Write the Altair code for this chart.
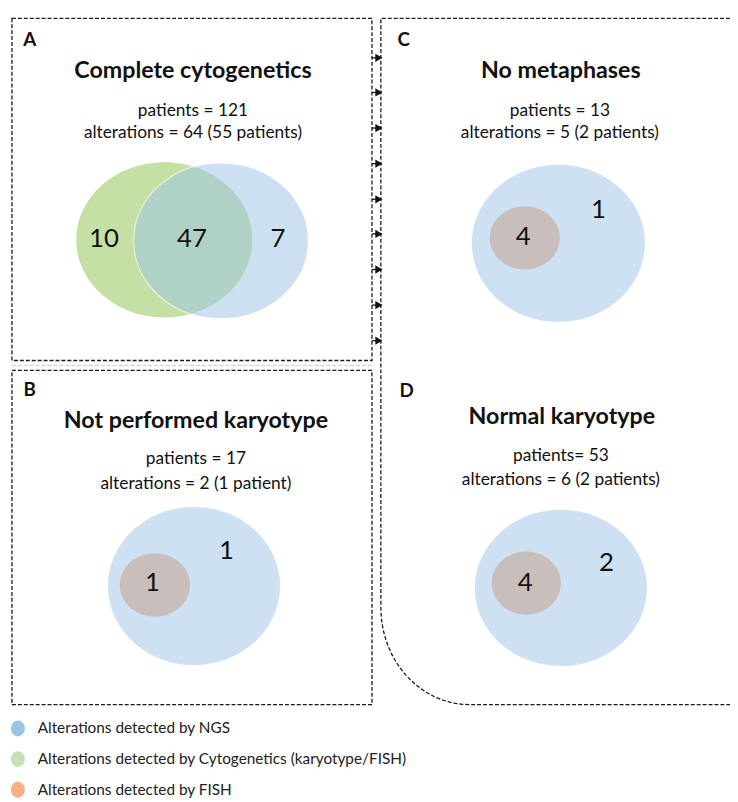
import altair as alt
import pandas as pd
import numpy as np

# ---------------- content ----------------
panel_letters = ["A", "B", "C", "D"]
panel_titles = ["Complete cytogenetics", "Not performed karyotype", "No metaphases", "Normal karyotype"]
patient_lines = ["patients = 121", "patients = 17", "patients = 13", "patients= 53"]
alteration_lines = ["alterations = 64 (55 patients)", "alterations = 2 (1 patient)",
                    "alterations = 5 (2 patients)", "alterations = 6 (2 patients)"]

venn_counts = ["10", "47", "7", "1", "1", "4", "1", "4", "2"]

legend_labels = ["Alterations detected by NGS",
                 "Alterations detected by Cytogenetics (karyotype/FISH)",
                 "Alterations detected by FISH"]
legend_colors = ["#9dc3e6", "#c5e0b4", "#f4b183"]

# ---------------- layout (page pixel coordinates) ----------------
letter_x = [30, 30, 408, 411]
letter_y = [36, 390, 36, 391]
title_x = [195, 198, 567, 568]
title_y = [67, 421, 67, 417]
sub_x = [195, 198, 566, 567]
sub1_y = [108, 460, 108, 457]
sub2_y = [130, 485, 130, 481]

count_x = [105, 194, 281, 154, 229, 529, 605, 531, 613]
count_y = [237, 237, 237, 585, 553, 235, 208, 585, 565]

# ellipses: cx, cy, rx, ry, fill, opacity, stroke, strokeWidth
ell_cx = [166, 223.5, 196, 156.5, 564.5, 530.5, 567, 532]
ell_cy = [238, 239, 588, 587, 241.5, 236, 590, 585]
ell_rx = [89, 88.5, 87, 35.5, 87.5, 35.5, 87, 35]
ell_ry = [78.5, 79, 80, 32, 79.5, 32, 79, 32]
ell_fill = ["#c5e0a5", "#9dc3e6", "#9dc3e6", "#c8bebb", "#9dc3e6", "#c8bebb", "#9dc3e6", "#c8bebb"]
ell_op = [1, 0.5, 0.5, 1, 0.5, 1, 0.5, 1]
ell_stroke = ["#c5e0a5", "#ffffff", "#9dc3e6", "#c8bebb", "#9dc3e6", "#c8bebb", "#9dc3e6", "#c8bebb"]
ell_sw = [0, 1.5, 0, 0, 0, 0, 0, 0]

legend_x = 18
legend_text_x = 38
legend_y = [732, 763, 794]

W, H = 730, 794
XD = [8, 738]
YD = [802, 8]
FONT = "Lato"


def ell_path(rx, ry):
    k = ry / rx
    return f"M-1,0A1,{k:.4f},0,0,1,1,0A1,{k:.4f},0,0,1,-1,0Z"


xs = alt.Scale(domain=XD, range=[0, W], nice=False, zero=False)
ys = alt.Scale(domain=YD, range=[H, 0], nice=False, zero=False)


def X(f="x"):
    return alt.X(f"{f}:Q", scale=xs, axis=None)


def Y(f="y"):
    return alt.Y(f"{f}:Q", scale=ys, axis=None)


# ---------------- data frames ----------------
ell_df = pd.DataFrame({
    "x": ell_cx, "y": ell_cy,
    "shape": [ell_path(a, b) for a, b in zip(ell_rx, ell_ry)],
    "size": [(2 * a) ** 2 for a in ell_rx],
    "fill": ell_fill, "op": ell_op, "stroke": ell_stroke, "sw": ell_sw,
    "order": list(range(len(ell_cx))),
})

leg_df = pd.DataFrame({
    "x": [legend_x] * 3, "y": legend_y,
    "shape": [ell_path(7, 8)] * 3, "size": [14 ** 2] * 3,
    "fill": legend_colors, "label": legend_labels, "tx": [legend_text_x] * 3,
})

letters_df = pd.DataFrame({"x": letter_x, "y": letter_y, "t": panel_letters})
titles_df = pd.DataFrame({"x": title_x, "y": title_y, "t": panel_titles})
subs_df = pd.DataFrame({"x": sub_x * 2, "y": sub1_y + sub2_y, "t": patient_lines + alteration_lines})
counts_df = pd.DataFrame({"x": count_x, "y": count_y, "t": venn_counts})

# frames
rect_df = pd.DataFrame({"x": [12, 12], "x2": [376, 376], "y": [14, 370], "y2": [360, 708]})
sep_df = pd.DataFrame({"x": [12, 376], "y": [365, 365]})

# C/D outline with rounded bottom-left corner
arc_t = np.linspace(np.pi, np.pi / 2, 20)
arc_cx, arc_cy, arc_rx, arc_ry = 475, 610, 90, 98
cd_x = [738, 385] + list(arc_cx + arc_rx * np.cos(arc_t)) + [738]
cd_y = [14, 14] + list(arc_cy + arc_ry * np.sin(arc_t)) + [708]
cd_df = pd.DataFrame({"x": cd_x, "y": cd_y, "o": list(range(len(cd_x)))})

arrow_y = [54, 89, 125, 161, 197, 232, 268, 304, 340]
arrow_df = pd.DataFrame({"x": [376] * 9, "x2": [382] * 9, "xh": [383] * 9, "y": arrow_y})

base = alt.Chart(ell_df)

dash = [4, 2]
LINE = "#1a1a1a"
frames = alt.Chart(rect_df).mark_rect(fillOpacity=0, stroke=LINE, strokeWidth=1.3,
                                       strokeDash=dash).encode(
    x=X(), x2="x2:Q", y=Y(), y2="y2:Q")
sep = alt.Chart(sep_df).mark_line(stroke="#c8c8c8", strokeWidth=1, strokeDash=dash).encode(x=X(), y=Y())
cd = alt.Chart(cd_df).mark_line(stroke=LINE, strokeWidth=1.3, strokeDash=dash).encode(
    x=X(), y=Y(), order="o:Q")
arrows = alt.Chart(arrow_df).mark_rule(stroke=LINE, strokeWidth=1.3).encode(
    x=X(), x2="x2:Q", y=Y())
heads = alt.Chart(arrow_df).mark_point(shape="triangle-right", filled=True, size=70,
                                       color="#111111", opacity=1).encode(x=X("xh"), y=Y())

ellipses = base.mark_point(filled=True).encode(
    x=X(), y=Y(),
    shape=alt.Shape("shape:N", scale=None),
    size=alt.Size("size:Q", scale=None),
    fill=alt.Fill("fill:N", scale=None),
    opacity=alt.Opacity("op:Q", scale=None),
    stroke=alt.Stroke("stroke:N", scale=None),
    strokeWidth=alt.StrokeWidth("sw:Q", scale=None),
    order="order:Q",
)

letters = alt.Chart(letters_df).mark_text(font=FONT, fontSize=19, fontWeight="bold", color="#111111",
                                          align="center", baseline="middle").encode(x=X(), y=Y(), text="t:N")
titles = alt.Chart(titles_df).mark_text(font=FONT, fontSize=23.5, fontWeight="bold", color="#111111",
                                        align="center", baseline="middle").encode(x=X(), y=Y(), text="t:N")
subs = alt.Chart(subs_df).mark_text(font=FONT, fontSize=17.5, color="#111111",
                                    align="center", baseline="middle").encode(x=X(), y=Y(), text="t:N")
counts = alt.Chart(counts_df).mark_text(font=FONT, fontSize=26, color="#111111",
                                        align="center", baseline="middle").encode(x=X(), y=Y(), text="t:N")

leg_marks = alt.Chart(leg_df).mark_point(filled=True, opacity=1).encode(
    x=X(), y=Y(),
    shape=alt.Shape("shape:N", scale=None),
    size=alt.Size("size:Q", scale=None),
    fill=alt.Fill("fill:N", scale=None),
)
leg_text = alt.Chart(leg_df).mark_text(font=FONT, fontSize=15.5, color="#222222",
                                       align="left", baseline="middle").encode(
    x=X("tx"), y=Y(), text="label:N")

chart = alt.layer(
    frames, sep, cd, arrows, heads, ellipses, letters, titles, subs, counts, leg_marks, leg_text
).properties(
    width=W, height=H, padding=0, autosize=alt.AutoSizeParams(type="none")
).configure_view(stroke=None)

chart.save("out.html", embed_options={"renderer": "svg", "actions": False})
